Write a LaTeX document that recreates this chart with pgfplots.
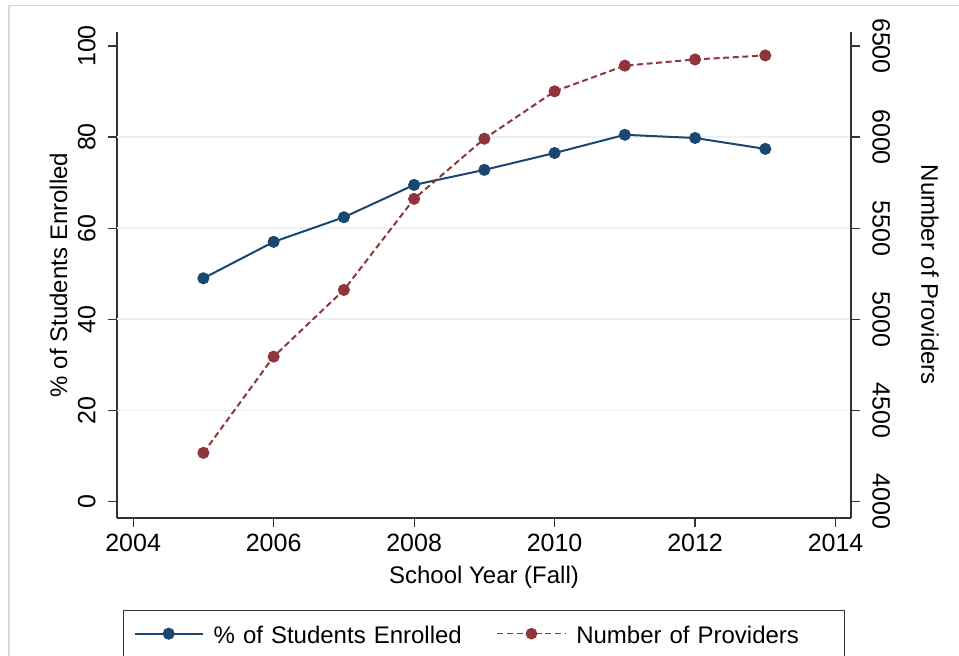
\documentclass[border=0pt]{standalone}
\usepackage{fontspec}
\setmainfont{Liberation Sans}
\usepackage{pgfplots}
\pgfplotsset{compat=1.18}

\definecolor{stnavy}{HTML}{1A476F}
\definecolor{stmaroon}{HTML}{90353B}
\definecolor{stgrid}{HTML}{EAF2F3}
\definecolor{stframe}{HTML}{D4DADA}
\newcommand\f{\fontsize{12}{14}\selectfont}
\newcommand\ft{\fontsize{12.5}{14}\selectfont}

\pgfplotsset{
  common/.style={
    scale only axis, width=367pt, height=243pt,
    xmin=2003.77, xmax=2014.22,
    tick align=outside, major tick length=4.5pt,
    axis line style={-, color=black!80, line width=0.6pt},
    tick style={color=black!80, line width=0.6pt},
    tick label style={font=\ft},
    label style={font=\f},
    /pgf/number format/assume math mode=true,
    /pgf/number format/1000 sep={},
    scaled ticks=false,
  },
}

\begin{document}
\begin{tikzpicture}
\path[use as bounding box] (-58.5pt,-69pt) rectangle (421pt,259pt);
\draw[stframe, line width=0.8pt] (-54pt,-69pt) -- (-54pt,256.25pt) -- (421pt,256.25pt);

\begin{axis}[common,
  ymin=-3.62, ymax=103.07,
  axis x line*=bottom, axis y line*=left,
  xtick={2004,2006,...,2014},
  ytick={0,100},
  extra y ticks={20,40,60,80},
  extra y tick style={grid=major, major grid style={stgrid, line width=0.8pt}},
  yticklabel style={rotate=90, anchor=south, inner ysep=6pt},
  ylabel={\% of Students Enrolled},
  ylabel style={at={(axis description cs:-0.0795,0.5)}, anchor=center},
  xlabel={School Year (Fall)},
  xlabel style={at={(axis description cs:0.5,-0.1358)}, anchor=base},
  legend columns=2,
  legend style={
    at={(axis description cs:0.5,-0.1893)}, anchor=north,
    draw=black!80, line width=0.7pt,
    inner xsep=5pt, inner ysep=5.5pt,
    column sep=5pt,
    /tikz/every even column/.append style={column sep=12.5pt},
    nodes={inner sep=0pt, text width=129pt, align=left, font=\f,
      text height=11pt, text depth=1pt},
  },
  legend image code/.code={
    \draw[mark repeat=2, mark phase=2, #1]
      plot coordinates {(0pt,0pt) (17pt,0pt) (34pt,0pt)};
  },
]
\addplot[stnavy, line width=1pt, mark=*, mark size=2.5pt,
  mark options={solid}] coordinates {
  (2005,49.0) (2006,57.0) (2007,62.4) (2008,69.5) (2009,72.8)
  (2010,76.5) (2011,80.5) (2012,79.8) (2013,77.4)
};
\addlegendentry{\% of Students Enrolled}
\addlegendimage{stmaroon, line width=0.8pt, dash pattern=on 3pt off 1.8pt,
  mark=*, mark size=2.5pt, mark options={solid}}
\addlegendentry{Number of Providers}
\end{axis}

\begin{axis}[common,
  ymin=3909.5, ymax=6576.8,
  axis x line=none, axis y line*=right,
  ytick={4000,4500,...,6500},
  yticklabel style={rotate=-90, anchor=south, inner ysep=6pt},
  ylabel={Number of Providers},
  ylabel style={at={(axis description cs:1.1076,0.5)}, anchor=center, rotate=180},
]
\addplot[stmaroon, line width=1pt, dash pattern=on 3pt off 1.8pt,
  mark=*, mark size=2.5pt, mark options={solid}] coordinates {
  (2005,4267) (2006,4795) (2007,5161) (2008,5661) (2009,5991)
  (2010,6251) (2011,6392) (2012,6426) (2013,6448)
};
\end{axis}
\end{tikzpicture}
\end{document}
